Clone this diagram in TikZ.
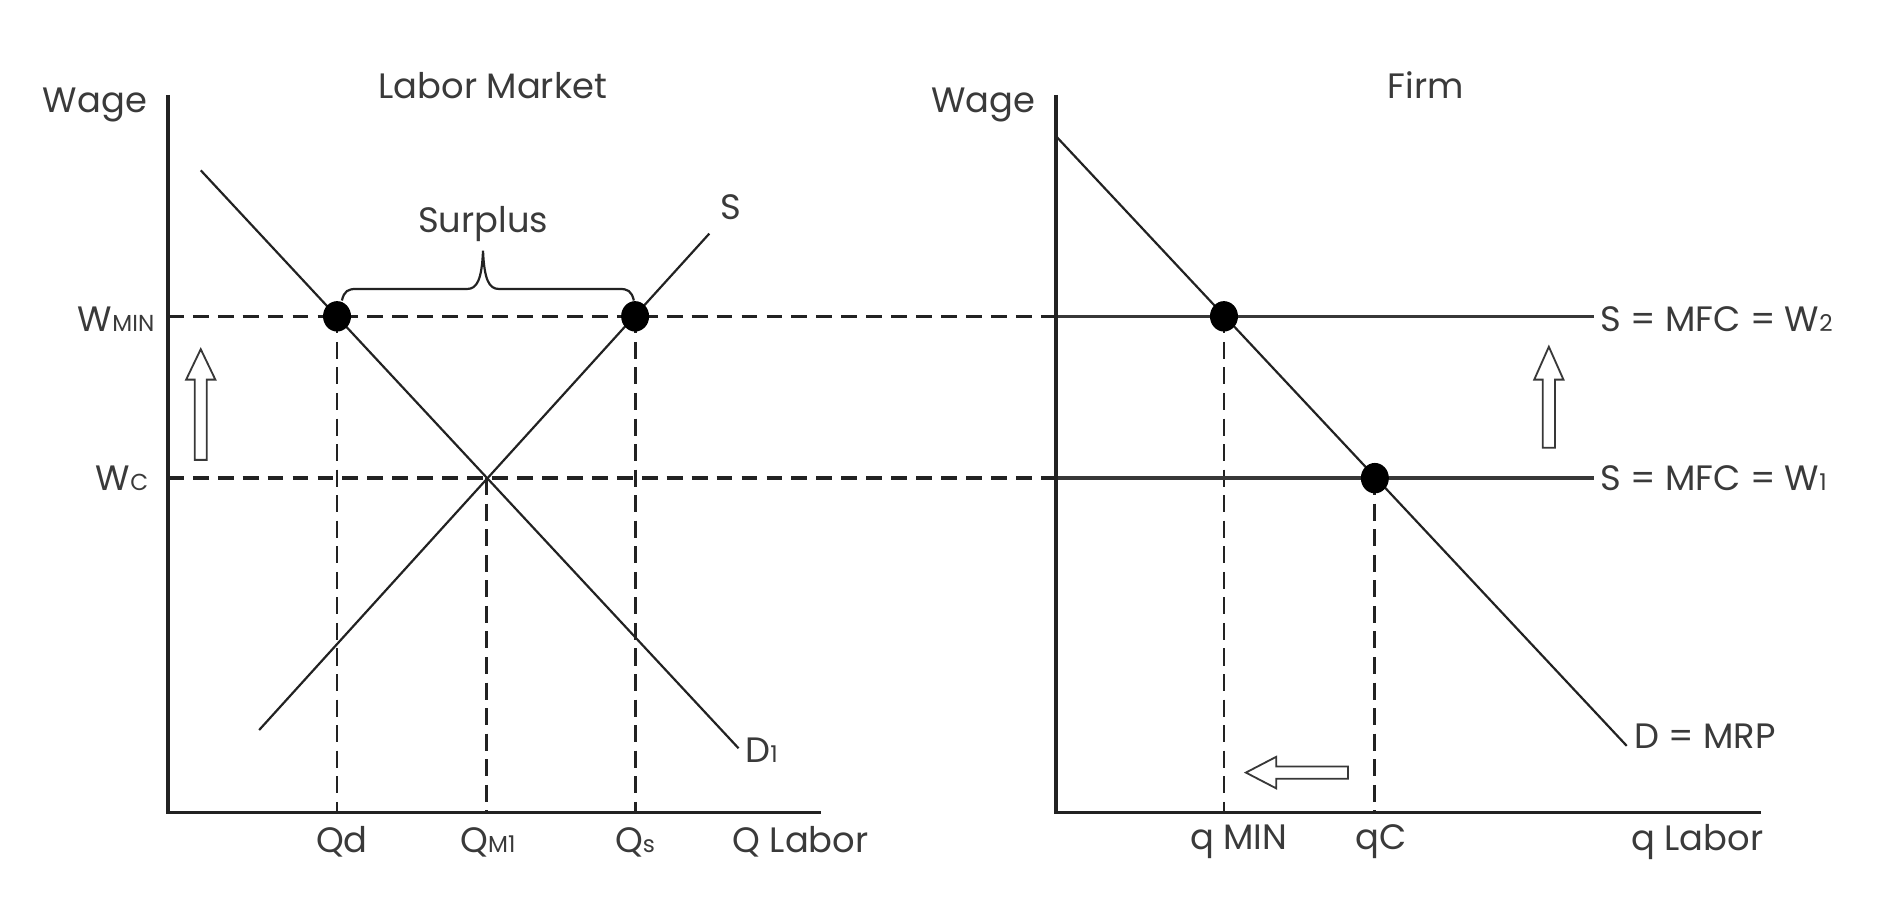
\documentclass[tikz,border=0pt]{standalone}
\usepackage{fontspec}
\setmainfont{Poppins}
\usetikzlibrary{shapes.geometric}
\newcommand\smc[1]{{\fontsize{19}{22}\selectfont #1}}
\definecolor{ink}{HTML}{222222}
\definecolor{txt}{HTML}{3A3A3A}
\begin{document}
\begin{tikzpicture}[x=1pt,y=-1pt,
  axis/.style={line width=2.8pt, draw=ink},
  curve/.style={line width=1.8pt, draw=ink},
  hdash/.style={line width=3pt, dash pattern=on 13pt off 7.5pt, draw=ink},
  vdash/.style={line width=2.3pt, dash pattern=on 14pt off 7pt, draw=ink},
  wline/.style={line width=3pt, draw=ink!90},
  dot/.style={ellipse, fill=black, inner sep=0pt, minimum width=23pt, minimum height=25pt},
  lbl/.style={font=\fontsize{29}{34}\selectfont, text=txt, inner sep=0pt},
  hollow/.style={draw=ink!90, line width=1.5pt, fill=white, line join=miter}
]
\useasboundingbox (0,0) rectangle (1560,746);
% ---------- left panel ----------
\coordinate (LO) at (138,668);
\coordinate (LT) at (138,78);
\coordinate (LR) at (675,668);
\coordinate (D1a) at (165,140);
\coordinate (D1b) at (607,615);
\coordinate (Sa) at (213,600);
\coordinate (Sb) at (583,192);
\coordinate (Ewm) at (138,260);
\coordinate (Ewc) at (138,393);
\coordinate (Rwm) at (868,260);
\coordinate (Rwc) at (868,393);
\coordinate (Pd) at (277,260);
\coordinate (Ps) at (522,260);
\coordinate (Pe) at (400,393);
\coordinate (Bd) at (277,668);
\coordinate (Bs) at (522,668);
\coordinate (Be) at (400,668);

\draw[hdash] (Ewm) -- (Rwm);
\draw[hdash] (Ewc) -- (Rwc);
\draw[vdash] (Pd) -- (Bd);
\draw[vdash] (Ps) -- (Bs);
\draw[vdash] (Pe) -- (Be);
\draw[curve] (D1a) -- (D1b);
\draw[curve] (Sa) -- (Sb);
\draw[axis] (LT) -- (LO) -- (LR);
\node[dot] (dotd) at (Pd) {};
\node[dot] (dots) at (Ps) {};

% brace
\draw[curve] (281,247) .. controls (283,239) and (286,237.5) .. (293,237.5) -- (384,237.5)
  .. controls (392,237.5) and (396,230) .. (397,206)
  .. controls (398,230) and (402,237.5) .. (410,237.5) -- (509,237.5)
  .. controls (516,237.5) and (519,239) .. (521,247);

\node[lbl] (wage1) at (78,86) {Wage};
\node[lbl] (title1) at (405,70) {Labor Market};
\node[lbl, anchor=east] (wmin) at (127,262) {W\smc{MIN}};
\node[lbl, anchor=east] (wc) at (122,393) {W\smc{C}};
\node[lbl] (qd) at (281,692) {Qd};
\node[lbl] (qm1) at (401,692) {Q\smc{M1}};
\node[lbl] (qs) at (522,692) {Q\smc{s}};
\node[lbl] (ql) at (658,692) {Q Labor};
\node[lbl] (slab) at (601,170) {S};
\node[lbl] (d1) at (626,617) {D\smc{1}};
\node[lbl] (surplus) at (397,184) {Surplus};

\draw[hollow] (165,287) -- (177,312) -- (170,312) -- (170,378) -- (160,378) -- (160,312) -- (153,312) -- cycle;

% ---------- right panel ----------
\coordinate (RO) at (868,668);
\coordinate (RT) at (868,78);
\coordinate (RR) at (1447,668);
\coordinate (Ma) at (868,112);
\coordinate (Mb) at (1337,613);
\coordinate (W2e) at (1310,260);
\coordinate (W1e) at (1310,393);
\coordinate (Pm) at (1006,260);
\coordinate (Pc) at (1130,393);
\coordinate (Bm) at (1006,668);
\coordinate (Bc) at (1130,668);

\draw[vdash] (Pm) -- (Bm);
\draw[vdash] (Pc) -- (Bc);
\draw[wline] (Rwm) -- (W2e);
\draw[wline] (Rwc) -- (W1e);
\draw[curve] (Ma) -- (Mb);
\draw[axis] (RT) -- (RO) -- (RR);
\node[dot] (dotm) at (Pm) {};
\node[dot] (dotc) at (Pc) {};

\node[lbl] (wage2) at (808,86) {Wage};
\node[lbl] (title2) at (1172,70) {Firm};
\node[lbl, anchor=west] (w2) at (1315,262) {S = MFC = W\smc{2}};
\node[lbl, anchor=west] (w1) at (1315,393) {S = MFC = W\smc{1}};
\node[lbl, anchor=west] (mrp) at (1343,605) {D = MRP};
\node[lbl] (qmin) at (1018,692) {q MIN};
\node[lbl] (qc) at (1135,692) {qC};
\node[lbl] (qlab) at (1395,692) {q Labor};

\draw[hollow] (1273,285) -- (1285,312) -- (1278,312) -- (1278,368) -- (1268,368) -- (1268,312) -- (1261,312) -- cycle;
\draw[hollow] (1024,635) -- (1049,622) -- (1049,630) -- (1108,630) -- (1108,640) -- (1049,640) -- (1049,648) -- cycle;
\end{tikzpicture}
\end{document}
